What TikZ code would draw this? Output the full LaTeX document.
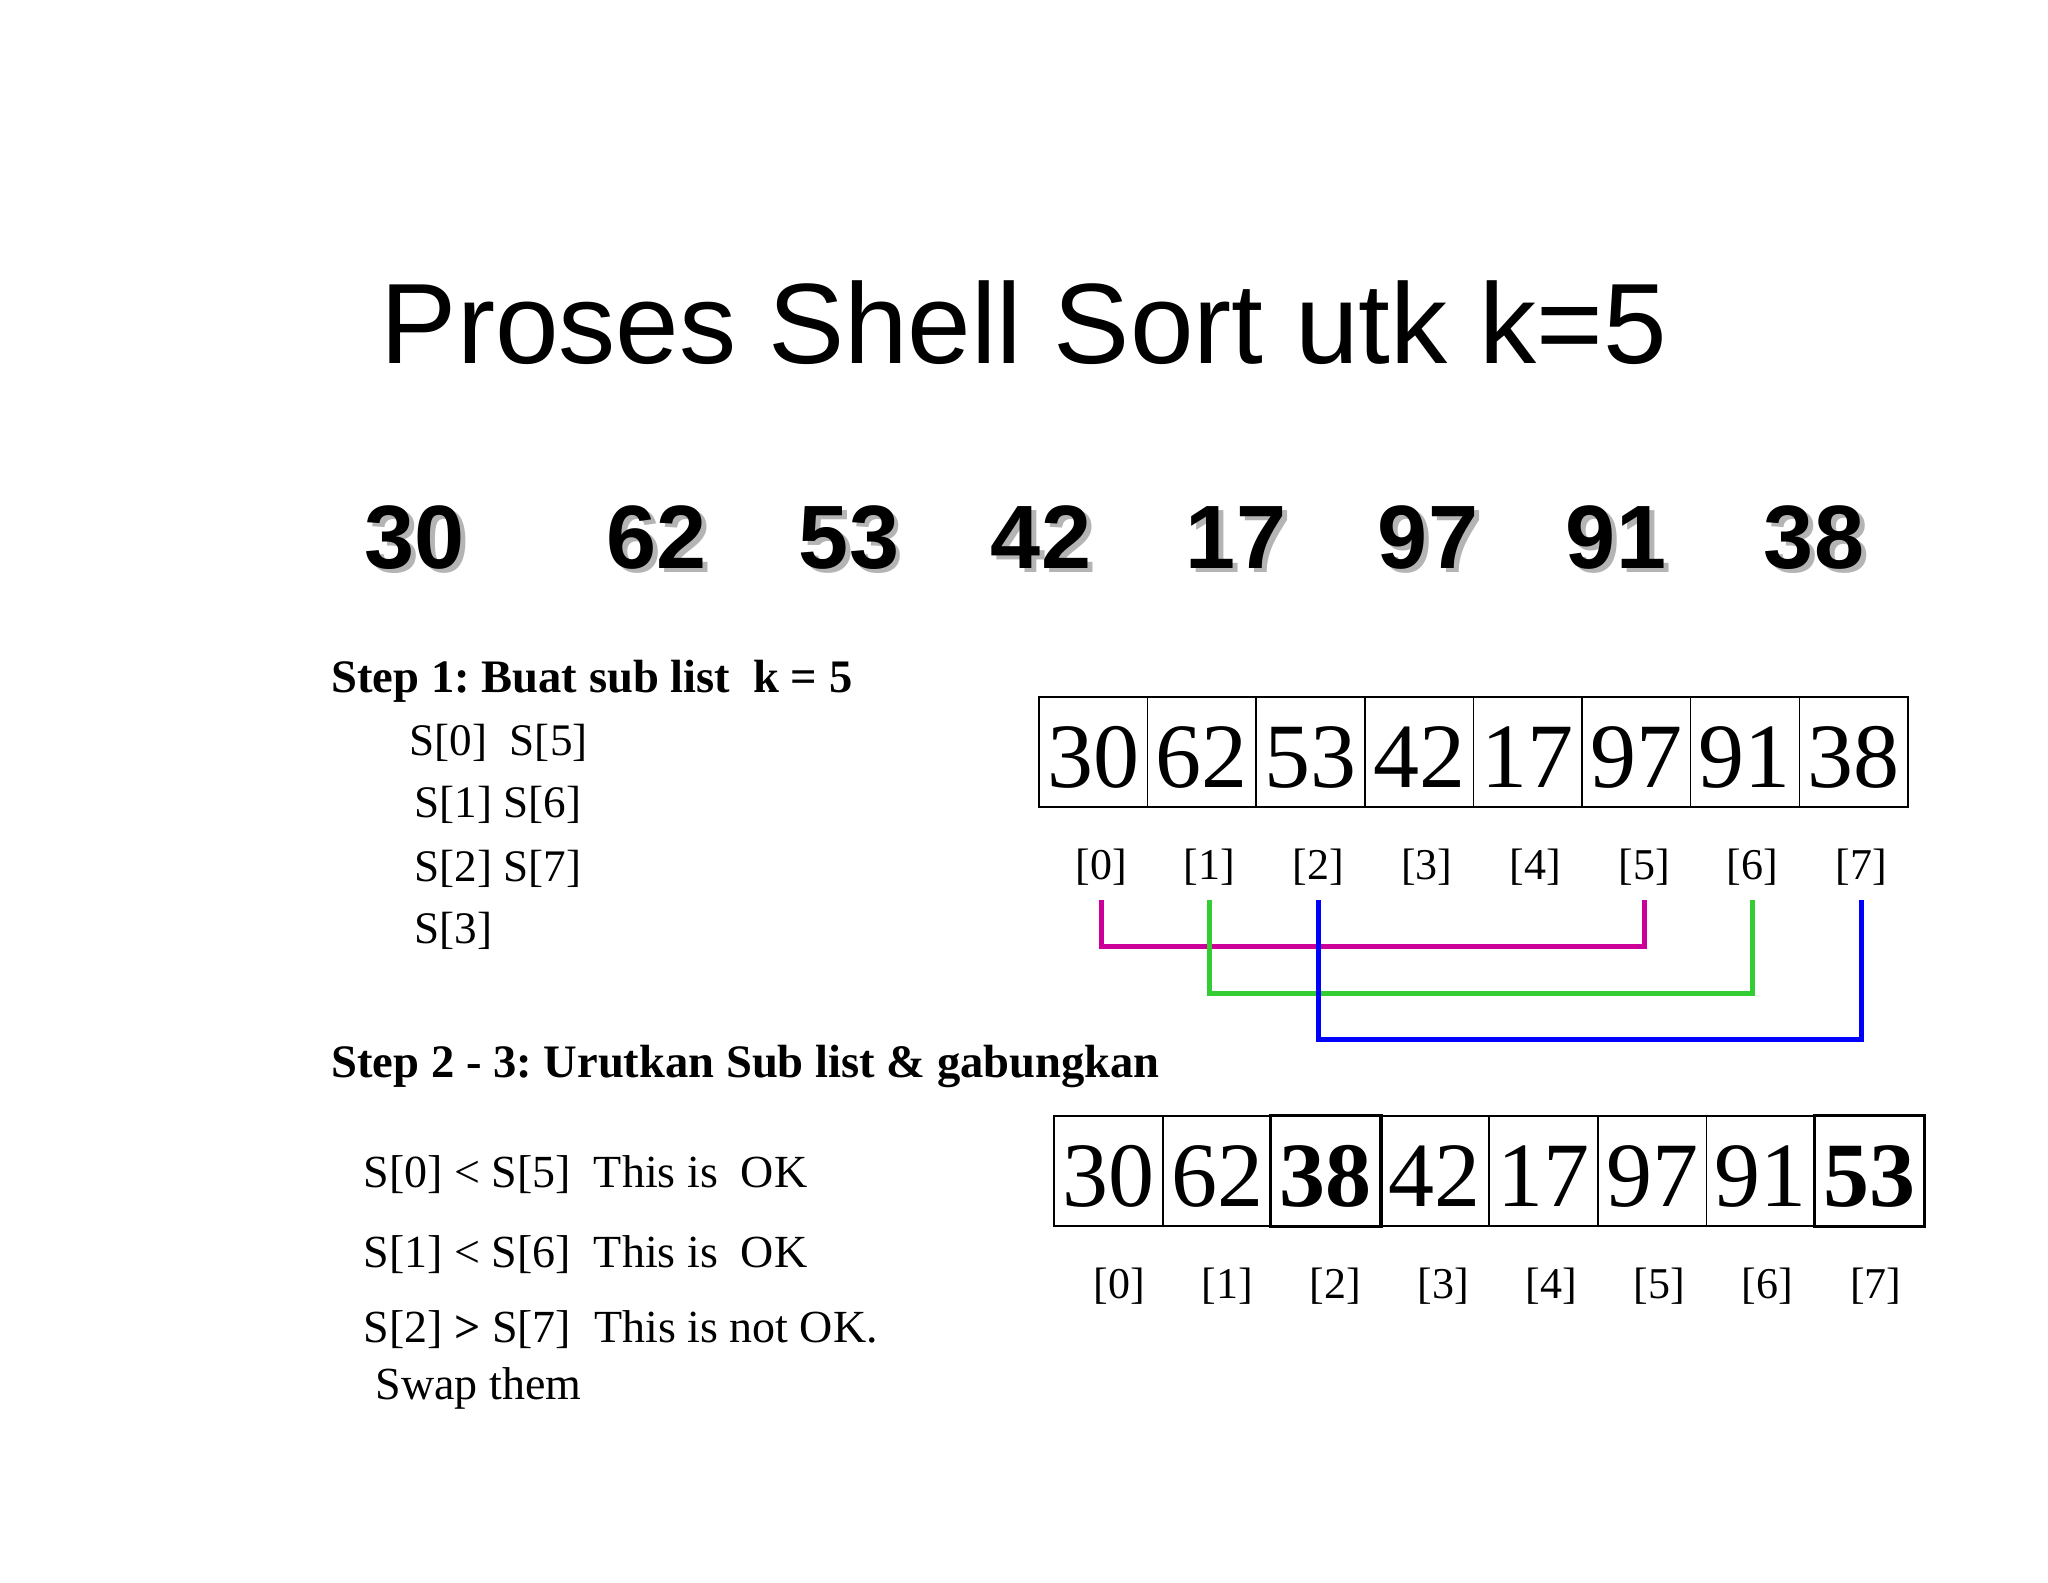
\documentclass[tikz,border=0pt]{standalone}
\usepackage{fontspec}
\setmainfont{Liberation Serif}
\newfontfamily\arialfont{Liberation Sans}
\usetikzlibrary{calc}
\definecolor{shadowgray}{HTML}{B4B4B4}
\definecolor{magline}{HTML}{CC0099}
\definecolor{grnline}{HTML}{33CC33}
\definecolor{bluline}{HTML}{0000FF}
\newcommand{\shadownum}[1]{\makebox[0pt][l]{\hspace{1.75pt}\raisebox{-1.4pt}{\textcolor{shadowgray}{#1}}}#1}
\begin{document}
\frenchspacing
\begin{tikzpicture}[x=0.35pt,y=-0.35pt,
  txt/.style={inner sep=0pt, anchor=base west},
  headtxt/.style={txt, font=\bfseries\fontsize{16.3pt}{19pt}\selectfont},
  subtxt/.style={txt, font=\fontsize{15.8pt}{19pt}\selectfont},
  cmptxt/.style={txt, font=\fontsize{16.1pt}{19pt}\selectfont},
  bignum/.style={inner sep=0pt, anchor=base, font=\arialfont\bfseries\fontsize{31.5pt}{36pt}\selectfont},
  cellbox/.style={draw, line width=0.5pt, inner sep=0pt, minimum width=38.02pt, minimum height=38.5pt,
    text height=24.5pt, text depth=0pt, font=\fontsize{32.2pt}{36pt}\selectfont},
  idx/.style={inner sep=0pt, anchor=base, font=\fontsize{15.4pt}{18pt}\selectfont},
  link/.style={line width=1.75pt}
]
\useasboundingbox (0,0) rectangle (2048,1582);
\fill[white] (0,0) rectangle (2048,1582);

% title
\node[inner sep=0pt, anchor=base, font=\arialfont\fontsize{40pt}{48pt}\selectfont] (title) at (1024,363) {Proses Shell Sort utk k=5};

% big numbers with shadow
\foreach \v/\x [count=\i from 0] in {30/415,62/657,53/849,42/1041,17/1236,97/1428,91/1616,38/1814} {
  \node[bignum] (n\i) at (\x,568) {\shadownum{\v}};
}

% step 1
\node[headtxt] (h1) at (331,692) {Step 1: Buat sub list~~k = 5};
\node[subtxt] (p0) at (409,755) {S[0]~~S[5]};
\node[subtxt] (p1) at (414,817) {S[1] S[6]};
\node[subtxt] (p2) at (414,881) {S[2] S[7]};
\node[subtxt] (p3) at (414,943) {S[3]};

% array 1
\foreach \v [count=\i from 0] in {30,62,53,42,17,97,91,38} {
  \node[cellbox] (a\i) at ({1039+108.6*(\i+0.5)},752) {\v};
}
\foreach \i in {0,...,7} {
  \node[idx] (l\i) at ({1101+108.6*\i},879) {[\i]};
}

% sub list connectors
\coordinate (ytop) at (0,900);
\coordinate (ymag) at (0,946);
\coordinate (ygrn) at (0,993);
\coordinate (yblu) at (0,1039);
\draw[link, magline] (l0 |- ytop) -- (l0 |- ymag) -| (l5 |- ytop);
\draw[link, grnline] (l1 |- ytop) -- (l1 |- ygrn) -| (l6 |- ytop);
\draw[link, bluline] (l2 |- ytop) -- (l2 |- yblu) -| (l7 |- ytop);

% step 2-3
\node[headtxt] (h2) at (331,1077) {Step 2 - 3: Urutkan Sub list \& gabungkan};
\node[cmptxt] (c0) at (363,1187) {S[0] < S[5]~~This is~~OK};
\node[cmptxt] (c1) at (363,1267) {S[1] < S[6]~~This is~~OK};
\node[cmptxt] (c2) at (363,1342) {S[2] {\bfseries >} S[7]~~This is not OK.};
\node[cmptxt] (c3) at (375,1399) {Swap them};

% array 2
\foreach \v [count=\i from 0] in {30,62,{\bfseries 38},42,17,97,91,{\bfseries 53}} {
  \node[cellbox] (b\i) at ({1054+108.75*(\i+0.5)},1171) {\v};
}
\draw[line width=1.1pt] (b2.south west) rectangle (b2.north east);
\draw[line width=1.1pt] (b7.south west) rectangle (b7.north east);
\foreach \i in {0,...,7} {
  \node[idx] (m\i) at ({1119+108.1*\i},1298) {[\i]};
}
\end{tikzpicture}
\end{document}
